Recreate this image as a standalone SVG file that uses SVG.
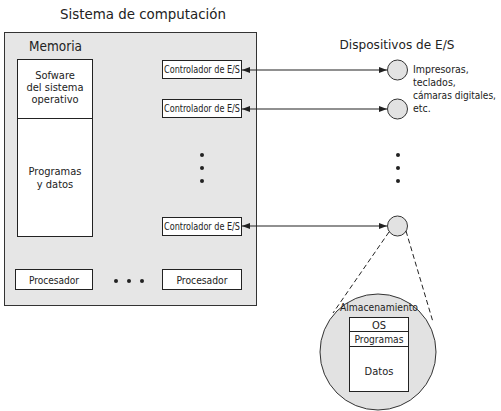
<svg xmlns="http://www.w3.org/2000/svg" width="501" height="411" viewBox="0 0 501 411">
<style>
text{font-family:"DejaVu Sans Condensed","DejaVu Sans",sans-serif;fill:#222;}
.box{fill:#fff;stroke:#222;stroke-width:1;}
.gray{fill:#e6e6e6;stroke:#333;stroke-width:1;}
.circ{fill:#e2e2e2;stroke:#333;stroke-width:1;}
.t10{font-size:10px;}
.t105{font-size:10.5px;}
.t11{font-size:11px;}
.t13{font-size:13px;}
.t14{font-size:14px;}
.dot{fill:#222;}
.conn{stroke:#222;stroke-width:1.2;fill:none;}
.dash{stroke:#222;stroke-width:1;fill:none;stroke-dasharray:5,3;}
</style>
<defs>
<marker id="ah" markerWidth="8" markerHeight="6" refX="8" refY="3" orient="auto-start-reverse" markerUnits="userSpaceOnUse">
<path d="M0,0 L8,3 L0,6 z" fill="#222"/>
</marker>
</defs>
<text class="t14" x="143" y="19" text-anchor="middle" textLength="166" lengthAdjust="spacingAndGlyphs">Sistema de computación</text>
<g id="sistema">
<rect class="gray" x="4.5" y="32.5" width="252" height="273"/>
<text class="t14" x="29" y="51" textLength="53" lengthAdjust="spacingAndGlyphs">Memoria</text>
</g>
<g id="memoria">
<rect class="box" x="17.5" y="59.5" width="75" height="177"/>
<line x1="17.5" y1="118.5" x2="92.5" y2="118.5" stroke="#222"/>
<text class="t11" text-anchor="middle"><tspan x="55" y="79">Sofware</tspan><tspan x="55" y="91">del sistema</tspan><tspan x="55" y="103">operativo</tspan></text>
<text class="t11" text-anchor="middle"><tspan x="55" y="175">Programas</tspan><tspan x="55" y="188">y datos</tspan></text>
</g>
<g id="ctrl1">
<rect class="box" x="162.5" y="60.5" width="79" height="18"/>
<text class="t10" x="202" y="73" text-anchor="middle" textLength="76" lengthAdjust="spacingAndGlyphs">Controlador de E/S</text>
</g>
<g id="ctrl2">
<rect class="box" x="162.5" y="99.5" width="79" height="18"/>
<text class="t10" x="202" y="112" text-anchor="middle" textLength="76" lengthAdjust="spacingAndGlyphs">Controlador de E/S</text>
</g>
<g id="ctrl3">
<rect class="box" x="162.5" y="217.5" width="79" height="18"/>
<text class="t10" x="202" y="230" text-anchor="middle" textLength="76" lengthAdjust="spacingAndGlyphs">Controlador de E/S</text>
</g>
<g id="dots-ctrl">
<circle class="dot" cx="202" cy="155" r="2"/>
<circle class="dot" cx="202" cy="168" r="2"/>
<circle class="dot" cx="202" cy="181" r="2"/>
</g>
<g id="proc1">
<rect class="box" x="15.5" y="269.5" width="77" height="20"/>
<text class="t11" x="54" y="283.5" text-anchor="middle" textLength="50" lengthAdjust="spacingAndGlyphs">Procesador</text>
</g>
<g id="dots-proc">
<circle class="dot" cx="116" cy="281" r="2"/>
<circle class="dot" cx="129" cy="281" r="2"/>
<circle class="dot" cx="142" cy="281" r="2"/>
</g>
<g id="proc2">
<rect class="box" x="162.5" y="269.5" width="79" height="20"/>
<text class="t11" x="202" y="283.5" text-anchor="middle" textLength="51" lengthAdjust="spacingAndGlyphs">Procesador</text>
</g>
<text class="t13" x="397" y="49" text-anchor="middle" textLength="115" lengthAdjust="spacingAndGlyphs">Dispositivos de E/S</text>
<g id="dev1">
<circle class="circ" cx="397.5" cy="70" r="10"/>
</g>
<g id="dev2">
<circle class="circ" cx="397.5" cy="109" r="10"/>
</g>
<g id="dev3">
<circle class="circ" cx="397.5" cy="226" r="10"/>
</g>
<g id="dev-label">
<text class="t105" x="413" y="73">Impresoras,</text>
<text class="t105" x="413" y="86">teclados,</text>
<text class="t105" x="413" y="99" textLength="83" lengthAdjust="spacingAndGlyphs">cámaras digitales,</text>
<text class="t105" x="413" y="112">etc.</text>
</g>
<g id="dots-dev">
<circle class="dot" cx="398" cy="155" r="2"/>
<circle class="dot" cx="398" cy="168" r="2"/>
<circle class="dot" cx="398" cy="181" r="2"/>
</g>
<g id="almacenamiento">
<circle class="circ" cx="378" cy="352" r="58"/>
<text class="t11" x="379" y="311" text-anchor="middle" textLength="78" lengthAdjust="spacingAndGlyphs">Almacenamiento</text>
<rect class="box" x="349.5" y="317.5" width="59" height="74"/>
<line x1="349.5" y1="331.5" x2="408.5" y2="331.5" stroke="#222"/>
<line x1="349.5" y1="346.5" x2="408.5" y2="346.5" stroke="#222"/>
<text class="t11" x="379" y="329" text-anchor="middle">OS</text>
<text class="t11" x="379" y="343" text-anchor="middle" textLength="49" lengthAdjust="spacingAndGlyphs">Programas</text>
<text class="t11" x="379" y="375" text-anchor="middle">Datos</text>
</g>
<g id="connectors">
<line class="conn" x1="242" y1="70" x2="387" y2="70" marker-start="url(#ah)" marker-end="url(#ah)"/>
<line class="conn" x1="242" y1="109" x2="387" y2="109" marker-start="url(#ah)" marker-end="url(#ah)"/>
<line class="conn" x1="242" y1="226" x2="387" y2="226" marker-start="url(#ah)" marker-end="url(#ah)"/>
<line class="dash" x1="389" y1="232" x2="333" y2="313"/>
<line class="dash" x1="406" y1="231" x2="433" y2="322"/>
</g>
</svg>
